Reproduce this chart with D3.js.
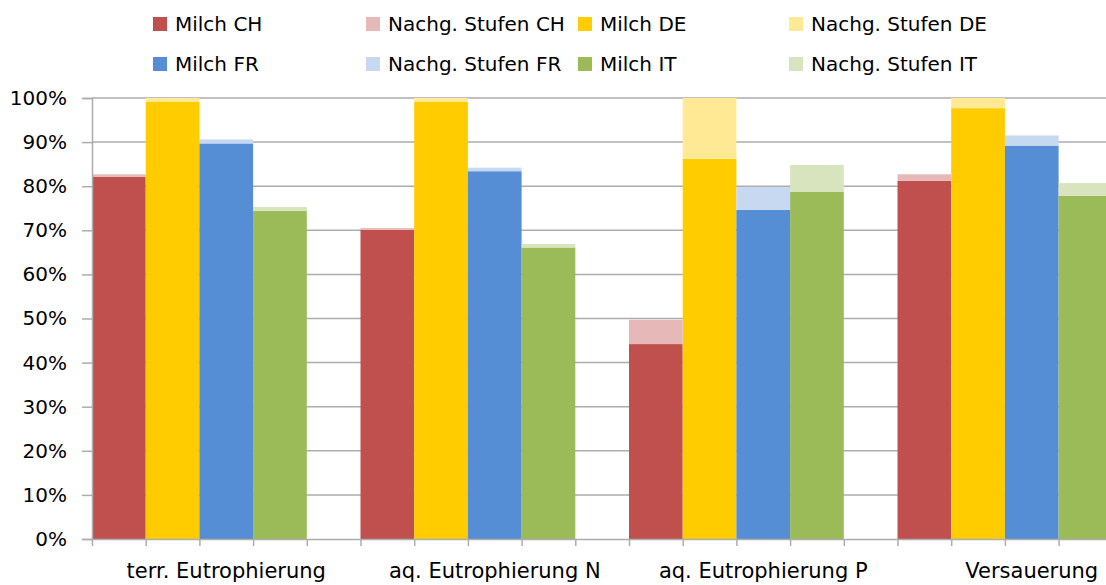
<!DOCTYPE html>
<html>
<head>
<meta charset="utf-8">
<script src="https://cdn.jsdelivr.net/npm/d3@7"></script>
<style>
  html, body { margin: 0; padding: 0; background: #fff; overflow: hidden; }
  svg { display: block; font-family: "DejaVu Sans", Verdana, sans-serif; }
</style>
</head>
<body>
<svg id="chart" width="1106" height="585"></svg>
<script>
// Impact categories (each group has 4 country bars + 1 empty slot)
const categories = ["terr. Eutrophierung", "aq. Eutrophierung N", "aq. Eutrophierung P", "Versauerung"];
const countries = ["CH", "DE", "FR", "IT"];

// Share of the milk production stage (%)
const milchCH = [82.1, 70.1, 44.2, 81.2];
const milchDE = [99.1, 99.1, 86.2, 97.7];
const milchFR = [89.7, 83.4, 74.6, 89.2];
const milchIT = [74.4, 66.1, 78.7, 77.8];

// Additional share of downstream stages (%)
const nachgCH = [0.6, 0.4, 5.5, 1.5];
const nachgDE = [0.9, 0.9, 13.8, 2.3];
const nachgFR = [0.9, 0.8, 5.2, 2.3];
const nachgIT = [0.9, 0.8, 6.1, 2.9];

const yTicks = [0, 10, 20, 30, 40, 50, 60, 70, 80, 90, 100];

const milchColors = { CH: "#C0504D", DE: "#FFCC00", FR: "#558ED5", IT: "#9BBB59" };
const nachgColors = { CH: "#E6B9B8", DE: "#FFE994", FR: "#C6D9F1", IT: "#D7E4BD" };

const milch = { CH: milchCH, DE: milchDE, FR: milchFR, IT: milchIT };
const nachg = { CH: nachgCH, DE: nachgDE, FR: nachgFR, IT: nachgIT };

const slotsPerGroup = 5;
const nSlots = categories.length * slotsPerGroup;

const svg = d3.select("#chart");
const x0 = 92, slotW = 53.7;
const xSlot = d3.scaleLinear().domain([0, nSlots]).range([x0, x0 + nSlots * slotW]);
const y = d3.scaleLinear().domain([0, 100]).range([539, 98]);

// Horizontal gridlines
svg.append("g").selectAll("line")
  .data(yTicks.filter(d => d > 0))
  .join("line")
  .attr("x1", x0).attr("x2", 1106)
  .attr("y1", d => y(d)).attr("y2", d => y(d))
  .attr("stroke", "#ADADAD").attr("stroke-width", 1.5);

// Stacked bars
const rows = [];
categories.forEach((cat, ci) => {
  countries.forEach((c, k) => {
    rows.push({ slot: ci * slotsPerGroup + k, country: c, m: milch[c][ci], n: nachg[c][ci] });
  });
});

const bars = svg.append("g");
bars.selectAll("rect.milch")
  .data(rows).join("rect").attr("class", "milch")
  .attr("x", d => xSlot(d.slot))
  .attr("width", d => xSlot(d.slot + 1) - xSlot(d.slot))
  .attr("y", d => y(d.m))
  .attr("height", d => y(0) - y(d.m))
  .attr("fill", d => milchColors[d.country]);

bars.selectAll("rect.nachg")
  .data(rows).join("rect").attr("class", "nachg")
  .attr("x", d => xSlot(d.slot))
  .attr("width", d => xSlot(d.slot + 1) - xSlot(d.slot))
  .attr("y", d => y(d.m + d.n))
  .attr("height", d => y(d.m) - y(d.m + d.n))
  .attr("fill", d => nachgColors[d.country]);

// Y axis
const yAxis = svg.append("g")
  .attr("transform", `translate(${x0},0)`)
  .call(d3.axisLeft(y).tickValues(yTicks).tickFormat(d => d + "%").tickSize(10).tickPadding(15));
yAxis.select(".domain").attr("stroke", "#ADADAD").attr("stroke-width", 1.5);
yAxis.selectAll(".tick line").attr("stroke", "#ADADAD").attr("stroke-width", 1.5);
yAxis.selectAll(".tick text").attr("font-size", 20).attr("fill", "#000")
  .attr("font-family", "'DejaVu Sans', sans-serif");

// X axis with ticks at every slot boundary
const xAxis = svg.append("g")
  .attr("transform", `translate(0,${y(0)})`)
  .call(d3.axisBottom(xSlot).tickValues(d3.range(0, nSlots + 1)).tickFormat("").tickSize(7).tickSizeOuter(0));
xAxis.select(".domain").attr("stroke", "#ADADAD").attr("stroke-width", 1.5);
xAxis.selectAll(".tick line").attr("stroke", "#ADADAD").attr("stroke-width", 1.5);

// Category labels centred on each group
svg.append("g").selectAll("text")
  .data(categories)
  .join("text")
  .attr("x", (d, i) => xSlot(i * slotsPerGroup + slotsPerGroup / 2))
  .attr("y", 578)
  .attr("text-anchor", "middle")
  .attr("font-size", 21)
  .attr("fill", "#000")
  .text(d => d);

// Legend
const legendItems = [
  { label: "Milch CH", color: milchColors.CH },
  { label: "Nachg. Stufen CH", color: nachgColors.CH },
  { label: "Milch DE", color: milchColors.DE },
  { label: "Nachg. Stufen DE", color: nachgColors.DE },
  { label: "Milch FR", color: milchColors.FR },
  { label: "Nachg. Stufen FR", color: nachgColors.FR },
  { label: "Milch IT", color: milchColors.IT },
  { label: "Nachg. Stufen IT", color: nachgColors.IT }
];
const legendX = [153, 366, 578, 789];
const legendY = [24, 64];
const lg = svg.append("g").selectAll("g")
  .data(legendItems)
  .join("g")
  .attr("transform", (d, i) => `translate(${legendX[i % 4]},${legendY[Math.floor(i / 4)]})`);
lg.append("rect").attr("x", 0).attr("y", -7).attr("width", 14).attr("height", 14).attr("fill", d => d.color);
lg.append("text").attr("x", 22).attr("y", 7).attr("font-size", 20).attr("fill", "#000").text(d => d.label);
</script>
</body>
</html>
